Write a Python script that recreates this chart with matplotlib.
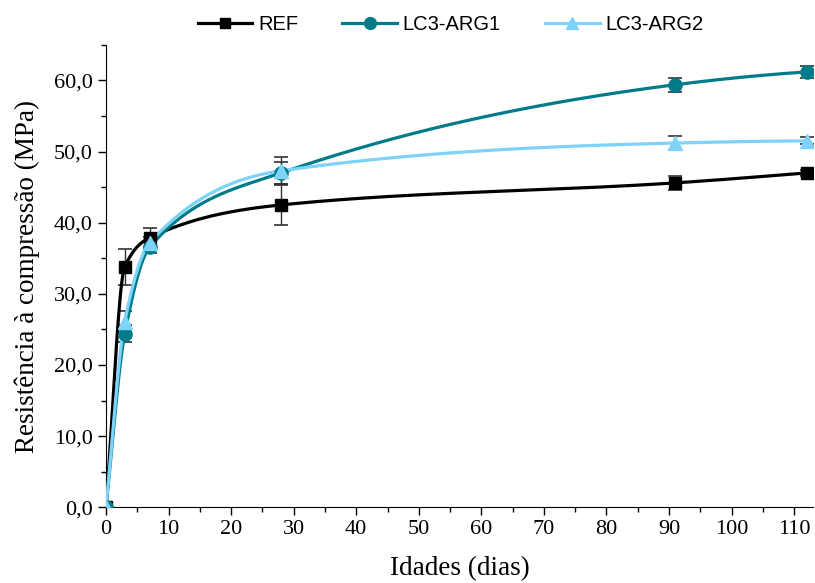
import numpy as np
import matplotlib
matplotlib.use("Agg")
import matplotlib.pyplot as plt
from matplotlib.ticker import MultipleLocator, FuncFormatter

days = [0, 3, 7, 28, 91, 112]
ref = [0.0, 33.8, 37.9, 42.5, 45.6, 47.0]
ref_err = [0.0, 2.5, 1.3, 2.8, 1.0, 0.4]
arg1 = [0.0, 24.4, 36.6, 47.0, 59.4, 61.2]
arg1_err = [0.0, 1.2, 0.8, 1.5, 1.0, 0.8]
arg2 = [0.0, 26.1, 37.2, 47.3, 51.2, 51.5]
arg2_err = [0.0, 1.5, 0.8, 1.9, 1.0, 0.5]
labels = ["REF", "LC3-ARG1", "LC3-ARG2"]
colors = ["#000000", "#007b8a", "#7dd3f8"]
markers = ["s", "o", "^"]


def pchip(x, y, xs):
    x = np.asarray(x, float); y = np.asarray(y, float)
    h = np.diff(x); d = np.diff(y) / h
    n = len(x); m = np.zeros(n)
    for k in range(1, n - 1):
        if d[k - 1] * d[k] > 0:
            w1 = 2 * h[k] + h[k - 1]; w2 = h[k] + 2 * h[k - 1]
            m[k] = (w1 + w2) / (w1 / d[k - 1] + w2 / d[k])
    m[0] = d[0]
    m[-1] = ((2 * h[-1] + h[-2]) * d[-1] - h[-1] * d[-2]) / (h[-1] + h[-2])
    if np.sign(m[-1]) != np.sign(d[-1]): m[-1] = 0
    ys = np.empty_like(xs)
    for i, xv in enumerate(xs):
        k = min(np.searchsorted(x, xv, side="right") - 1, n - 2)
        t = (xv - x[k]) / h[k]
        h00 = 2*t**3 - 3*t**2 + 1; h10 = t**3 - 2*t**2 + t
        h01 = -2*t**3 + 3*t**2; h11 = t**3 - t**2
        ys[i] = h00*y[k] + h10*h[k]*m[k] + h01*y[k+1] + h11*h[k]*m[k+1]
    return ys


fig = plt.figure(figsize=(8.15, 5.83), dpi=100)
ax = fig.add_axes([0.130, 0.130, 0.8675, 0.793])

xs = np.linspace(0, 112, 800)
handles = []
for vals, errs, lab, c, mk in zip([ref, arg1, arg2], [ref_err, arg1_err, arg2_err], labels, colors, markers):
    ms = 8 if mk == "s" else 9.5
    ax.errorbar(days, vals, yerr=errs, fmt="none", ecolor="#333333", elinewidth=1.0,
                capsize=5, capthick=1.2, zorder=2)
    ax.plot(xs, pchip(days, vals, xs), color=c, lw=2.3, zorder=3)
    ax.plot(days, vals, linestyle="none", marker=mk, color=c, ms=ms, zorder=4)
    h, = ax.plot([], [], color=c, lw=2.3, marker=mk, ms=ms - 1, label=lab)
    handles.append(h)

ax.set_xlim(0, 113)
ax.set_ylim(0, 65)
for s in ["top", "right"]:
    ax.spines[s].set_visible(False)
ax.xaxis.set_major_locator(MultipleLocator(10))
ax.xaxis.set_minor_locator(MultipleLocator(5))
ax.yaxis.set_major_locator(MultipleLocator(10))
ax.yaxis.set_minor_locator(MultipleLocator(5))
ax.yaxis.set_major_formatter(FuncFormatter(lambda v, p: f"{v:.1f}".replace(".", ",")))
ax.tick_params(which="major", direction="out", length=6, width=1, labelsize=16)
ax.tick_params(which="minor", direction="out", length=3.5, width=1)
for lbl in ax.get_xticklabels() + ax.get_yticklabels():
    lbl.set_fontfamily("Liberation Serif")
ax.set_xlabel("Idades (dias)", fontfamily="Liberation Serif", fontsize=19.5, labelpad=12)
ax.set_ylabel("Resistência à compressão (MPa)", fontfamily="Liberation Serif", fontsize=19.5, labelpad=10)

fig.legend(handles=handles, loc="upper center", bbox_to_anchor=(0.553, 1.005), ncol=3, frameon=False,
           prop={"family": "Liberation Sans", "size": 14.5}, handlelength=2.7, columnspacing=2.2,
           handletextpad=0.3)
fig.savefig("out.png", dpi=100)
